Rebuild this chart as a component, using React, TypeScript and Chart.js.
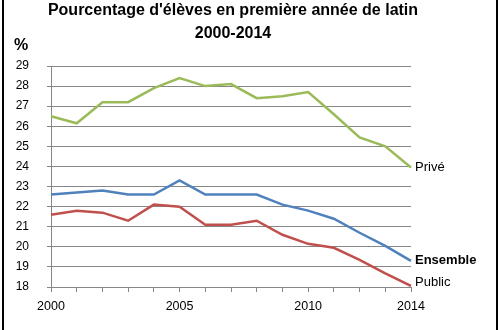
import React, { useEffect, useRef } from "react";
import { Chart, registerables } from "chart.js";

Chart.register(...registerables);

const years = ["2000","2001","2002","2003","2004","2005","2006","2007","2008","2009","2010","2011","2012","2013","2014"];
const shownYears = ["2000", "2005", "2010", "2014"];
const prive = [26.5, 26.15, 27.2, 27.2, 27.9, 28.4, 28.0, 28.1, 27.4, 27.5, 27.7, 26.6, 25.45, 25.0, 23.95];
const ensemble = [22.6, 22.7, 22.8, 22.6, 22.6, 23.3, 22.6, 22.6, 22.6, 22.1, 21.8, 21.4, 20.7, 20.05, 19.3];
const publicV = [21.6, 21.8, 21.7, 21.3, 22.1, 22.0, 21.1, 21.1, 21.3, 20.6, 20.15, 19.95, 19.35, 18.68, 18.05];
const seriesNames = ["Privé", "Ensemble", "Public"];
const titleLines = ["Pourcentage d'élèves en première année de latin", "2000-2014"];
const yUnit = "%";

const FONT = "'Liberation Sans', Arial, sans-serif";

const decorPlugin = {
  id: "decor",
  afterDraw(chart: any) {
    const ctx = chart.ctx;
    ctx.save();
    // borders
    ctx.fillStyle = "#000";
    ctx.fillRect(2, 0, 2, chart.height);
    ctx.fillRect(496, 0, 2, chart.height);
    // title
    ctx.fillStyle = "#000";
    ctx.textAlign = "center";
    ctx.textBaseline = "middle";
    ctx.font = "bold 16px " + FONT;
    ctx.fillText(titleLines[0], 233, 11);
    ctx.fillText(titleLines[1], 233, 34);
    // unit
    ctx.textAlign = "left";
    ctx.font = "bold 16px " + FONT;
    ctx.fillText(yUnit, 14, 46);
    // end labels
    const styles = [
      { font: "13px " + FONT, dy: 0 },
      { font: "bold 13px " + FONT, dy: 0 },
      { font: "13px " + FONT, dy: -4 },
    ];
    chart.data.datasets.forEach((ds: any, i: number) => {
      const meta = chart.getDatasetMeta(i);
      const pt = meta.data[meta.data.length - 1];
      ctx.font = styles[i].font;
      ctx.textAlign = "left";
      ctx.textBaseline = "middle";
      ctx.fillStyle = "#000";
      ctx.fillText(ds.label, pt.x + 4, pt.y + styles[i].dy);
    });
    ctx.restore();
  },
};

export default function App() {
  const ref = useRef<HTMLCanvasElement>(null);
  useEffect(() => {
    document.body.style.margin = "0";
    const chart = new Chart(ref.current!, {
      type: "line",
      data: {
        labels: years,
        datasets: [
          { label: seriesNames[0], data: prive, borderColor: "#9bbb59" },
          { label: seriesNames[1], data: ensemble, borderColor: "#4f81bd" },
          { label: seriesNames[2], data: publicV, borderColor: "#c0504d" },
        ].map((d) => ({ ...d, borderWidth: 2.5, pointRadius: 0, tension: 0, fill: false })),
      },
      options: {
        responsive: false,
        animation: false,
        layout: { padding: { top: 66, right: 89, left: 0, bottom: 0 } },
        plugins: { legend: { display: false }, tooltip: { enabled: false }, title: { display: false } },
        scales: {
          x: {
            offset: false,
            grid: { drawOnChartArea: false, drawTicks: true, tickLength: 5, color: "#868686" },
            border: { display: true, color: "#868686", width: 1 },
            ticks: {
              autoSkip: false,
              maxRotation: 0,
              padding: 7,
              color: "#000",
              font: { family: FONT, size: 12.5 },
              callback: (v: any, i: number) => (shownYears.includes(years[i]) ? years[i] : ""),
            },
            afterFit: (s: any) => { s.height = 43; },
          },
          y: {
            min: 18,
            max: 29,
            grid: { color: "#868686", tickLength: 4, lineWidth: 1 },
            border: { display: true, color: "#868686", width: 1 },
            ticks: { stepSize: 1, padding: 18, color: "#000", font: { family: FONT, size: 12 } },
            afterFit: (s: any) => { s.width = 51; },
          },
        },
      },
      plugins: [decorPlugin],
    });
    return () => chart.destroy();
  }, []);
  return (
    <div style={{ width: 500, height: 330, background: "#fff" }}>
      <canvas ref={ref} width={500} height={330} />
    </div>
  );
}
